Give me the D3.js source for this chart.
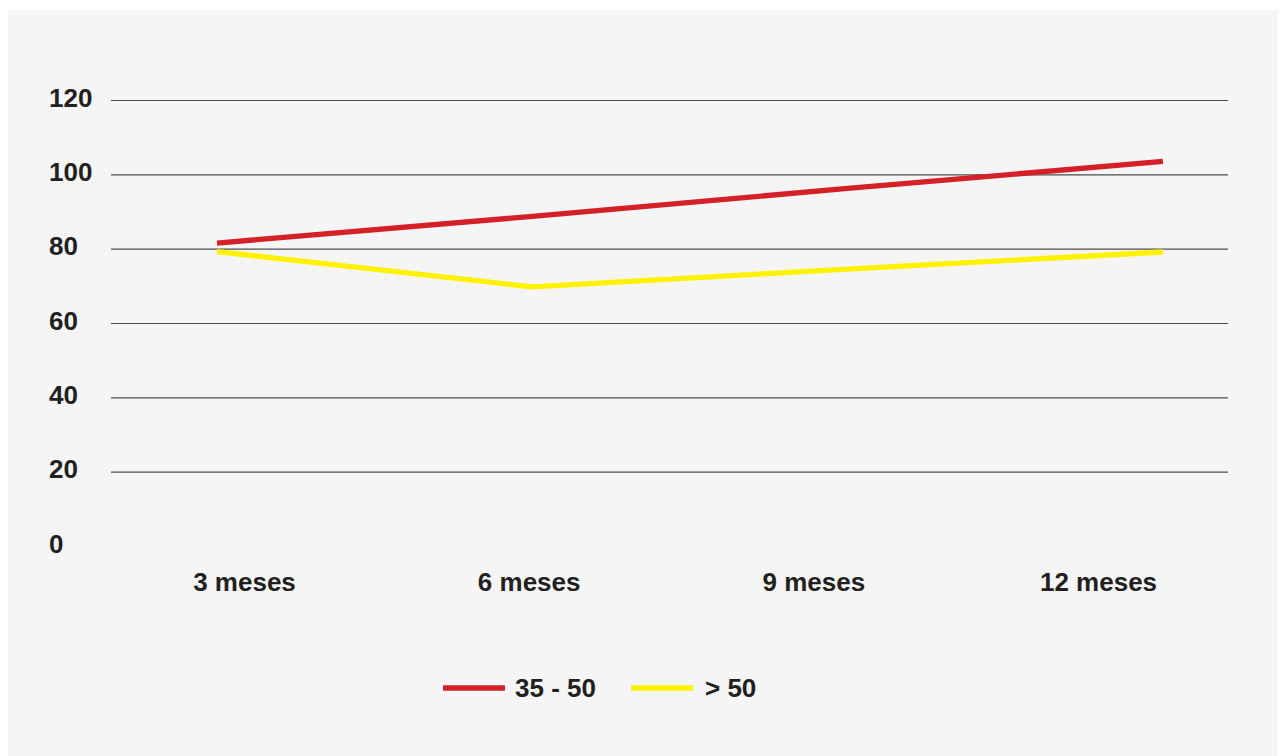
<!DOCTYPE html>
<html>
<head>
<meta charset="utf-8">
<script src="https://cdn.jsdelivr.net/npm/d3@7"></script>
<style>
  html, body { margin: 0; padding: 0; background: #ffffff; }
  svg { display: block; }
  text { font-family: "Liberation Sans", Arial, Helvetica, sans-serif; font-weight: bold; fill: #231f20; }
</style>
</head>
<body>
<svg id="chart" width="1281" height="756"></svg>
<script>
const categories = ["3 meses", "6 meses", "9 meses", "12 meses"];
const seriesNames = ["35 - 50", "> 50"];
const series3550 = [81.5, 88.7, 96.2, 103.5];
const seriesOver50 = [79.2, 69.7, 74.5, 79.1];
const yTicks = [0, 20, 40, 60, 80, 100, 120];
const colors = ["#d42128", "#fff200"];

const svg = d3.select("#chart");
svg.append("rect").attr("x", 8).attr("y", 10).attr("width", 1270).attr("height", 746).attr("fill", "#f5f5f5");

const y = d3.scaleLinear().domain([0, 120]).range([546, 100]);
const xPts = d3.scalePoint().domain(categories).range([217, 1163]);
const xLab = d3.scalePoint().domain(categories).range([244, 1098]);

// gridlines (no line at 0)
const yAxis = d3.axisLeft(y).tickValues(yTicks.filter(v => v > 0)).tickSize(-(1228 - 111)).tickFormat("");
const gy = svg.append("g").attr("transform", "translate(111,0)").call(yAxis);
gy.select(".domain").remove();
gy.selectAll(".tick line").attr("stroke", "#4d4d4d").attr("stroke-width", 1.2);

// y labels, left aligned
svg.append("g").selectAll("text").data(yTicks).join("text")
  .attr("x", 49).attr("y", d => y(d) + 6.5)
  .attr("font-size", 26).attr("text-anchor", "start")
  .text(d => d);

// x labels
const xAxis = d3.axisBottom(xLab).tickSize(0).tickPadding(0);
const gx = svg.append("g").attr("transform", "translate(0,591)").call(xAxis);
gx.select(".domain").remove();
gx.selectAll(".tick text")
  .attr("dy", 0).attr("y", 0)
  .attr("font-size", 26)
  .style("font-family", '"Liberation Sans", Arial, sans-serif')
  .style("font-weight", "bold")
  .attr("fill", "#231f20");

// lines
const allSeries = [series3550, seriesOver50];
const line = d3.line().x((d, i) => xPts(categories[i])).y(d => y(d));
svg.append("g").selectAll("path").data(allSeries).join("path")
  .attr("d", d => line(d))
  .attr("fill", "none")
  .attr("stroke", (d, i) => colors[i])
  .attr("stroke-width", 5.3)
  .attr("stroke-linejoin", "miter");

// legend
const legendItems = [
  { x1: 443, x2: 505, tx: 515 },
  { x1: 631, x2: 693, tx: 705 }
];
const lg = svg.append("g");
seriesNames.forEach((name, i) => {
  lg.append("line")
    .attr("x1", legendItems[i].x1).attr("x2", legendItems[i].x2)
    .attr("y1", 688).attr("y2", 688)
    .attr("stroke", colors[i]).attr("stroke-width", 5.3);
  lg.append("text")
    .attr("x", legendItems[i].tx).attr("y", 697)
    .attr("font-size", 26)
    .text(name);
});
</script>
</body>
</html>
